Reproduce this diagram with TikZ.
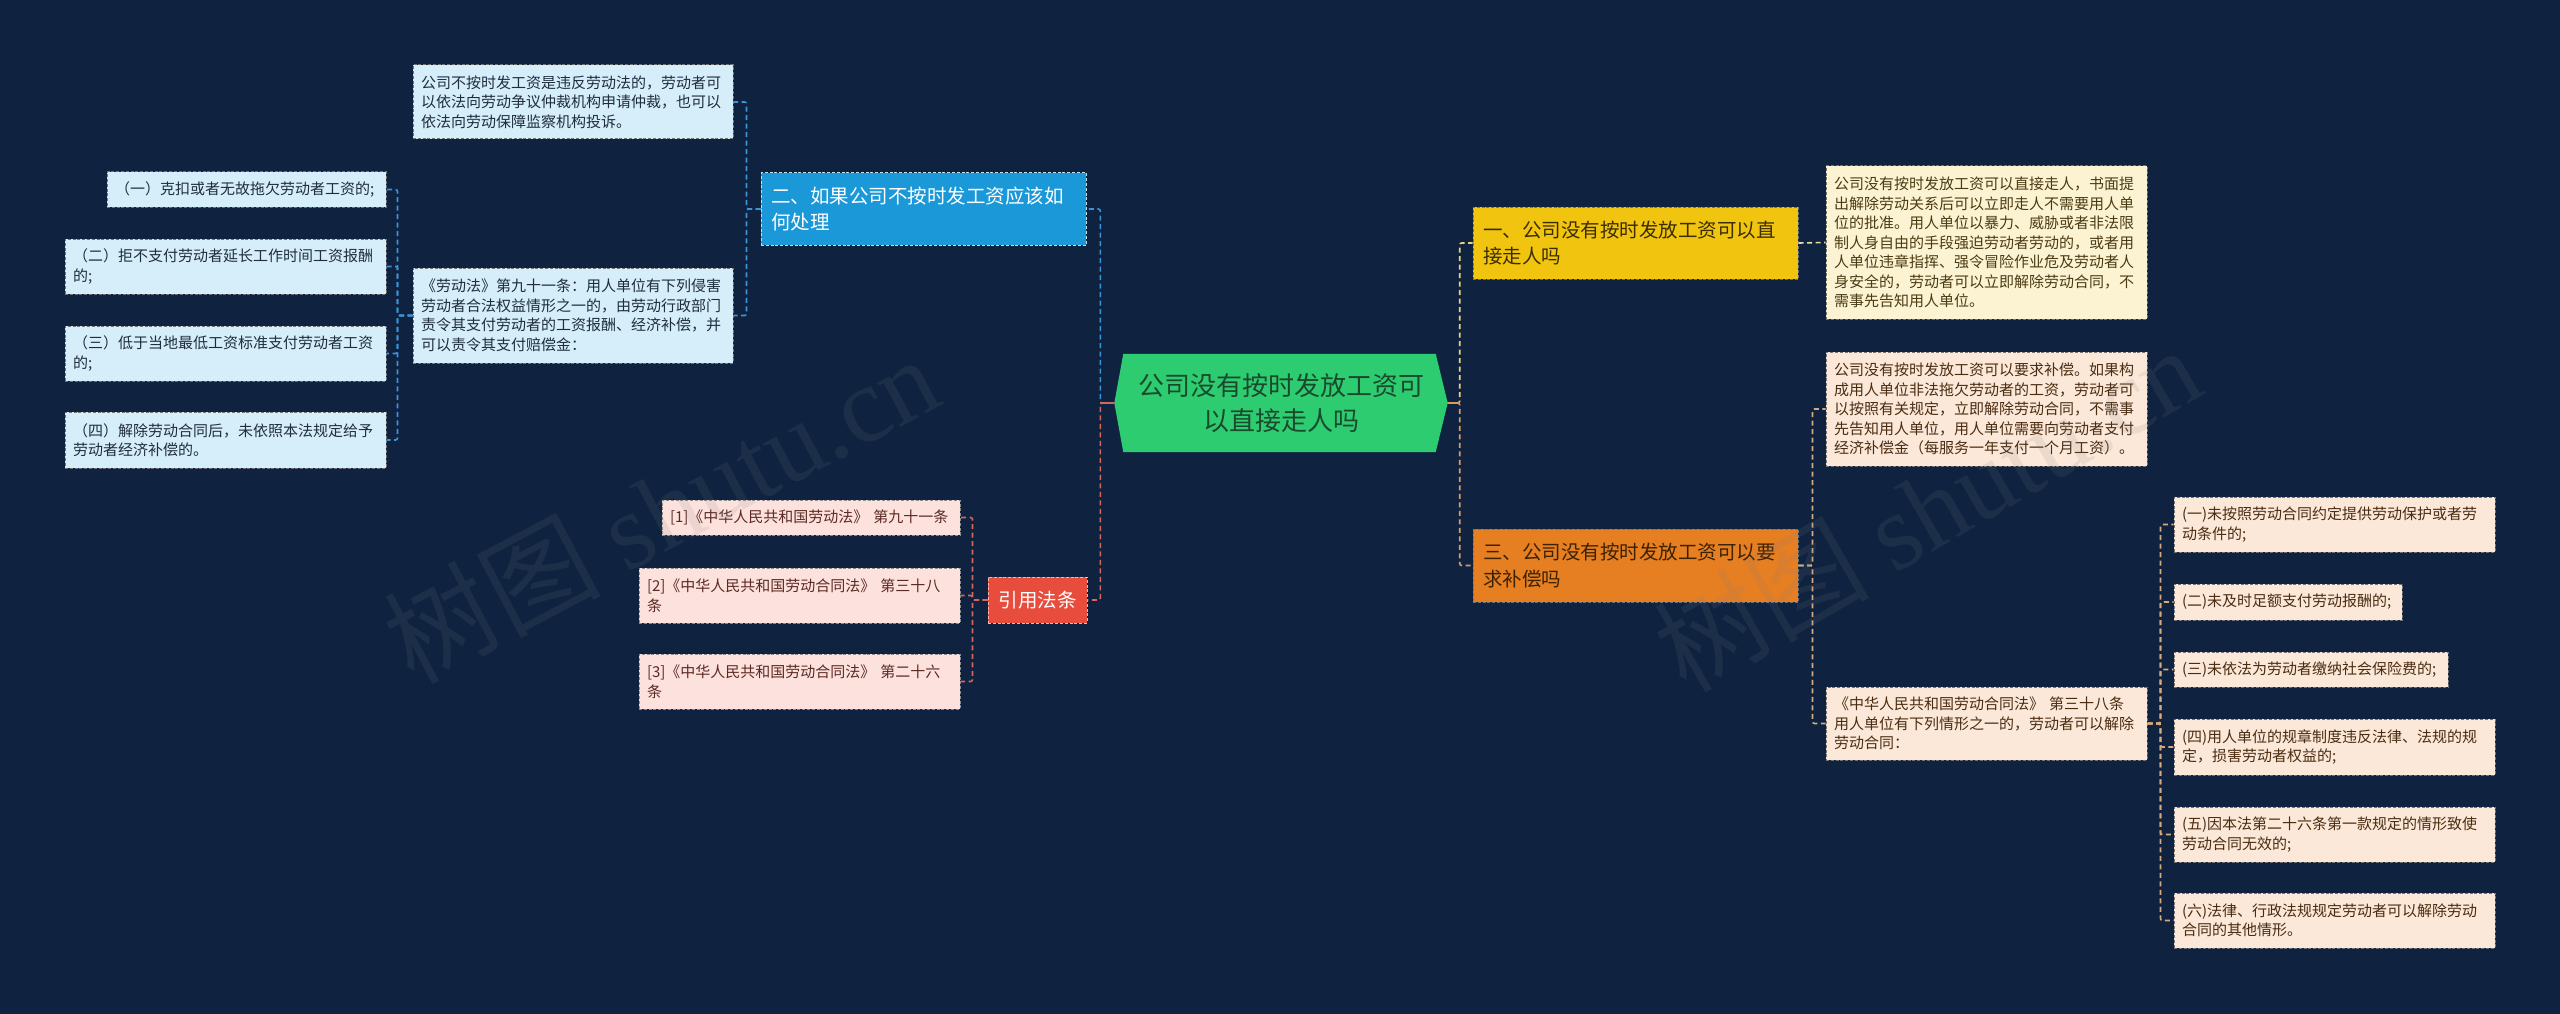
\documentclass[tikz,border=0pt]{standalone}
\usepackage{fontspec}
\newfontfamily\cjk{Noto Sans CJK SC}
\newfontfamily\wmserif{Liberation Serif}
\usetikzlibrary{backgrounds}
\definecolor{bgc}{HTML}{0F2240}
\definecolor{greenc}{HTML}{2ECC71}
\definecolor{ctext}{HTML}{1A4A2C}
\definecolor{bluen}{HTML}{1A98D8}
\definecolor{yelln}{HTML}{F1C40F}
\definecolor{oran}{HTML}{E67E22}
\definecolor{redn}{HTML}{E74C3C}
\definecolor{lbfill}{HTML}{D6EEFA}
\definecolor{lbtext}{HTML}{1F2D3D}
\definecolor{crfill}{HTML}{FCF3D3}
\definecolor{crtext}{HTML}{4B3B12}
\definecolor{pcfill}{HTML}{FBE8D8}
\definecolor{pctext}{HTML}{4A2C12}
\definecolor{pkfill}{HTML}{FDE1DC}
\definecolor{pktext}{HTML}{5B2A24}
\definecolor{yltext}{HTML}{3A2E00}
\definecolor{ortext}{HTML}{3D2200}
\definecolor{blueC}{HTML}{3A95D8}
\definecolor{redC}{HTML}{D2675C}
\definecolor{yelC}{HTML}{E8D27A}
\definecolor{orC}{HTML}{D99A62}
\definecolor{yelC2}{HTML}{E6DFA6}
\definecolor{tanC}{HTML}{D6AA80}
\begin{document}
\begin{tikzpicture}[x=1pt,y=-1pt,
  bd/.style={draw=#1, line width=1pt, dash pattern=on 3pt off 1.8pt},
  sb/.style={font=\cjk\fontsize{15}{19.5}\selectfont, align=left, inner xsep=8pt, inner ysep=0pt},
  lb/.style={sb, fill=lbfill, text=lbtext, bd=black!55},
  cr/.style={sb, fill=crfill, text=crtext, bd=black!55},
  pc/.style={sb, fill=pcfill, text=pctext, bd=black!55},
  pk/.style={sb, fill=pkfill, text=pktext, bd=black!45},
  lone/.style={font=\cjk\fontsize{19.5}{26.5}\selectfont, align=left, text width=305pt, inner xsep=10pt, inner ysep=0pt, minimum height=72pt},
  cn/.style={draw=#1, line width=1.6pt, dash pattern=on 5pt off 3.5pt, rounded corners=2pt},
  wm/.style={text=gray, opacity=0.13, inner sep=0pt}
]
\useasboundingbox (0,0) rectangle (2560,1014);

% central topic
\node[font=\cjk\fontsize{26}{35}\selectfont, text=ctext, align=center, minimum width=333pt, minimum height=98pt, inner sep=0pt] (c) at (1281,403) {公司没有按时发放工资可\\以直接走人吗};
\begin{pgfonlayer}{background}
\fill[bgc] (0,0) rectangle (2560,1014);
\fill[greenc] ([xshift=9pt]c.north west) -- ([xshift=-12pt]c.north east) -- (c.east) -- ([xshift=-12pt]c.south east) -- ([xshift=9pt]c.south west) -- (c.west) -- cycle;
\end{pgfonlayer}

% level one
\node[lone, fill=bluen, text=white, bd=white!70!bluen] (two) at (923.5,209) {二、如果公司不按时发工资应该如\\何处理};
\node[lone, fill=yelln, text=yltext, bd=black!55] (one) at (1635.5,243) {一、公司没有按时发放工资可以直\\接走人吗};
\node[lone, fill=oran, text=ortext, bd=black!55, minimum height=73pt] (three) at (1635.5,565.5) {三、公司没有按时发放工资可以要\\求补偿吗};
\node[font=\cjk\fontsize{19.5}{26.5}\selectfont, fill=redn, text=white, bd=white!60!redn, minimum width=99pt, minimum height=46pt, inner sep=0pt] (rf) at (1037.5,600) {引用法条};

% left: blue branch
\node[lb, text width=304pt, minimum height=74pt] (A) at (573,102) {公司不按时发工资是违反劳动法的，劳动者可\\以依法向劳动争议仲裁机构申请仲裁，也可以\\依法向劳动保障监察机构投诉。};
\node[lb, text width=304pt, minimum height=95pt] (B) at (573,315.5) {《劳动法》第九十一条：用人单位有下列侵害\\劳动者合法权益情形之一的，由劳动行政部门\\责令其支付劳动者的工资报酬、经济补偿，并\\可以责令其支付赔偿金：};
\node[lb, text width=263pt, minimum height=35pt] (ba) at (246.5,189.5) {（一）克扣或者无故拖欠劳动者工资的;};
\node[lb, text width=305pt, minimum height=55pt] (bb) at (225.5,266.5) {（二）拒不支付劳动者延长工作时间工资报酬\\的;};
\node[lb, text width=305pt, minimum height=55pt] (bc) at (225.5,353.5) {（三）低于当地最低工资标准支付劳动者工资\\的;};
\node[lb, text width=305pt, minimum height=56pt] (bd) at (225.5,440) {（四）解除劳动合同后，未依照本法规定给予\\劳动者经济补偿的。};

% left: red branch
\node[pk, text width=282pt, minimum height=35pt] (r1) at (811,517.5) {[1]《中华人民共和国劳动法》 第九十一条};
\node[pk, text width=305pt, minimum height=55pt] (r2) at (799.5,595.5) {[2]《中华人民共和国劳动合同法》 第三十八\\条};
\node[pk, text width=305pt, minimum height=55pt] (r3) at (799.5,681.5) {[3]《中华人民共和国劳动合同法》 第二十六\\条};

% right: yellow branch
\node[cr, text width=305pt, minimum height=153pt] (yd) at (1986.5,242.5) {公司没有按时发放工资可以直接走人，书面提\\出解除劳动关系后可以立即走人不需要用人单\\位的批准。用人单位以暴力、威胁或者非法限\\制人身自由的手段强迫劳动者劳动的，或者用\\人单位违章指挥、强令冒险作业危及劳动者人\\身安全的，劳动者可以立即解除劳动合同，不\\需事先告知用人单位。};

% right: orange branch
\node[pc, text width=305pt, minimum height=114pt] (oa) at (1986.5,409) {公司没有按时发放工资可以要求补偿。如果构\\成用人单位非法拖欠劳动者的工资，劳动者可\\以按照有关规定，立即解除劳动合同，不需事\\先告知用人单位，用人单位需要向劳动者支付\\经济补偿金（每服务一年支付一个月工资）。};
\node[pc, text width=305pt, minimum height=73pt] (ob) at (1986.5,723.5) {《中华人民共和国劳动合同法》 第三十八条\\用人单位有下列情形之一的，劳动者可以解除\\劳动合同：};
\node[pc, text width=305pt, minimum height=55pt] (p1) at (2334.5,524.5) {(一)未按照劳动合同约定提供劳动保护或者劳\\动条件的;};
\node[pc, text width=212pt, minimum height=36pt] (p2) at (2288,602) {(二)未及时足额支付劳动报酬的;};
\node[pc, text width=258pt, minimum height=35pt] (p3) at (2311,669.5) {(三)未依法为劳动者缴纳社会保险费的;};
\node[pc, text width=305pt, minimum height=56pt] (p4) at (2334.5,747) {(四)用人单位的规章制度违反法律、法规的规\\定，损害劳动者权益的;};
\node[pc, text width=305pt, minimum height=55pt] (p5) at (2334.5,834.5) {(五)因本法第二十六条第一款规定的情形致使\\劳动合同无效的;};
\node[pc, text width=305pt, minimum height=55pt] (p6) at (2334.5,920.5) {(六)法律、行政法规规定劳动者可以解除劳动\\合同的其他情形。};

% connectors from centre
\draw[cn=blueC] (c.west) -- ++(-14,0) |- (two.east);
\draw[cn=redC] (c.west) -- ++(-14,0) |- (rf.east);
\draw[redC, line width=1.6pt] (c.west) -- ++(-14,0);
\draw[cn=yelC] (c.east) -- ++(12,0) |- (one.west);
\draw[cn=orC] (c.east) -- ++(12,0) |- (three.west);
\draw[orC, line width=1.6pt] (c.east) -- ++(12,0);

% blue branch connectors
\foreach \n in {A,B} \draw[cn=blueC] (two.west) -- ++(-14,0) |- (\n.east);
\foreach \n in {ba,bb,bc,bd} \draw[cn=blueC] (B.west) -- ++(-15,0) |- (\n.east);

% red branch connectors
\foreach \n in {r1,r2,r3} \draw[cn=redC] (rf.west) -- ++(-15,0) |- (\n.east);

% yellow branch connector
\draw[cn=yelC2] (one.east) -- (yd.west);

% orange branch connectors
\foreach \n in {oa,ob} \draw[cn=tanC] (three.east) -- ++(14,0) |- (\n.west);
\foreach \n in {p1,p2,p3,p4,p5,p6} \draw[cn=tanC] (ob.east) -- ++(13,0) |- (\n.west);

% watermarks
\node[wm, rotate=28] (wm1) at (661,508) {\cjk\fontsize{108}{108}\selectfont 树图 \wmserif shutu.cn};
\node[wm, rotate=30] (wm2) at (1927,508) {\cjk\fontsize{108}{108}\selectfont 树图 \wmserif shutu.cn};
\end{tikzpicture}
\end{document}
